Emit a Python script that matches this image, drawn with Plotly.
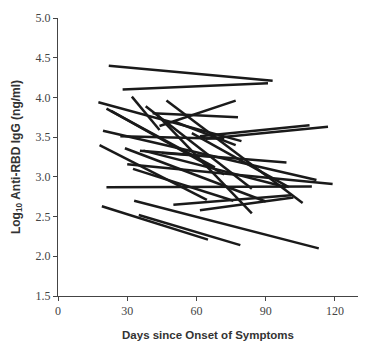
import plotly.graph_objects as go

# Each participant: (day1, value1) -> (day2, value2)
day_start = [22, 28, 17.5, 21, 23, 32, 38, 47, 44, 41, 19.5, 27, 18, 29, 35.5, 30, 32.5, 21, 19, 33, 35, 50, 61.5, 61.5, 64, 43, 37, 45, 58, 50]
val_start = [4.40, 4.10, 3.94, 3.86, 3.83, 4.01, 3.89, 3.96, 3.64, 3.80, 3.58, 3.51, 3.40, 3.36, 3.33, 3.16, 3.10, 2.87, 2.63, 2.70, 2.52, 2.65, 2.58, 3.51, 3.48, 3.78, 3.33, 3.30, 3.55, 3.70]
day_end = [93, 91, 79.5, 68, 72, 44, 84, 106, 77, 78, 112, 72, 64.5, 90, 99, 119, 76, 110, 65, 113, 79, 101, 102, 109, 117, 84, 99, 68, 100, 77]
val_end = [4.21, 4.18, 3.45, 3.12, 3.03, 3.59, 2.85, 2.67, 3.96, 3.75, 2.96, 3.48, 2.71, 2.69, 3.18, 2.91, 2.70, 2.88, 2.21, 2.10, 2.14, 2.77, 2.74, 3.65, 3.63, 2.54, 2.87, 3.25, 2.87, 3.40]

x_ticks = [0, 30, 60, 90, 120]
y_ticks = [1.5, 2.0, 2.5, 3.0, 3.5, 4.0, 4.5, 5.0]

xs, ys = [], []
for a, b, c, d in zip(day_start, val_start, day_end, val_end):
    xs += [a, c, None]
    ys += [b, d, None]

fig = go.Figure()
fig.add_trace(go.Scatter(x=xs, y=ys, mode="lines",
                         line=dict(color="#1a1a1a", width=2.5),
                         showlegend=False, hoverinfo="skip"))

fig.update_layout(
    width=369, height=350,
    margin=dict(l=58, r=11, t=15, b=49),
    paper_bgcolor="white", plot_bgcolor="white",
    font=dict(family="Liberation Sans, Arial, sans-serif", color="#333"),
)
tick_font = dict(family="Liberation Serif, DejaVu Serif, serif", size=12, color="#444")
fig.update_xaxes(
    range=[0, 130], tickvals=x_ticks, ticktext=[str(t) for t in x_ticks],
    showgrid=False, zeroline=False, showline=True, linecolor="#444", linewidth=1,
    ticks="outside", ticklen=4, tickcolor="#444", tickfont=tick_font,
    title=dict(text="<b>Days since Onset of Symptoms</b>", font=dict(size=11.5, color="#333"), standoff=13),
)
fig.update_yaxes(
    range=[1.5, 5.0], tickvals=y_ticks, ticktext=[f"{t:.1f}" for t in y_ticks],
    showgrid=False, zeroline=False, showline=True, linecolor="#444", linewidth=1,
    ticks="outside", ticklen=4, tickcolor="#444", tickfont=tick_font,
    title=dict(text="<b>Log<sub>10</sub> Anti-RBD IgG (ng/ml)</b>", font=dict(size=12, color="#333"), standoff=12),
)

fig.write_html("out.html")
